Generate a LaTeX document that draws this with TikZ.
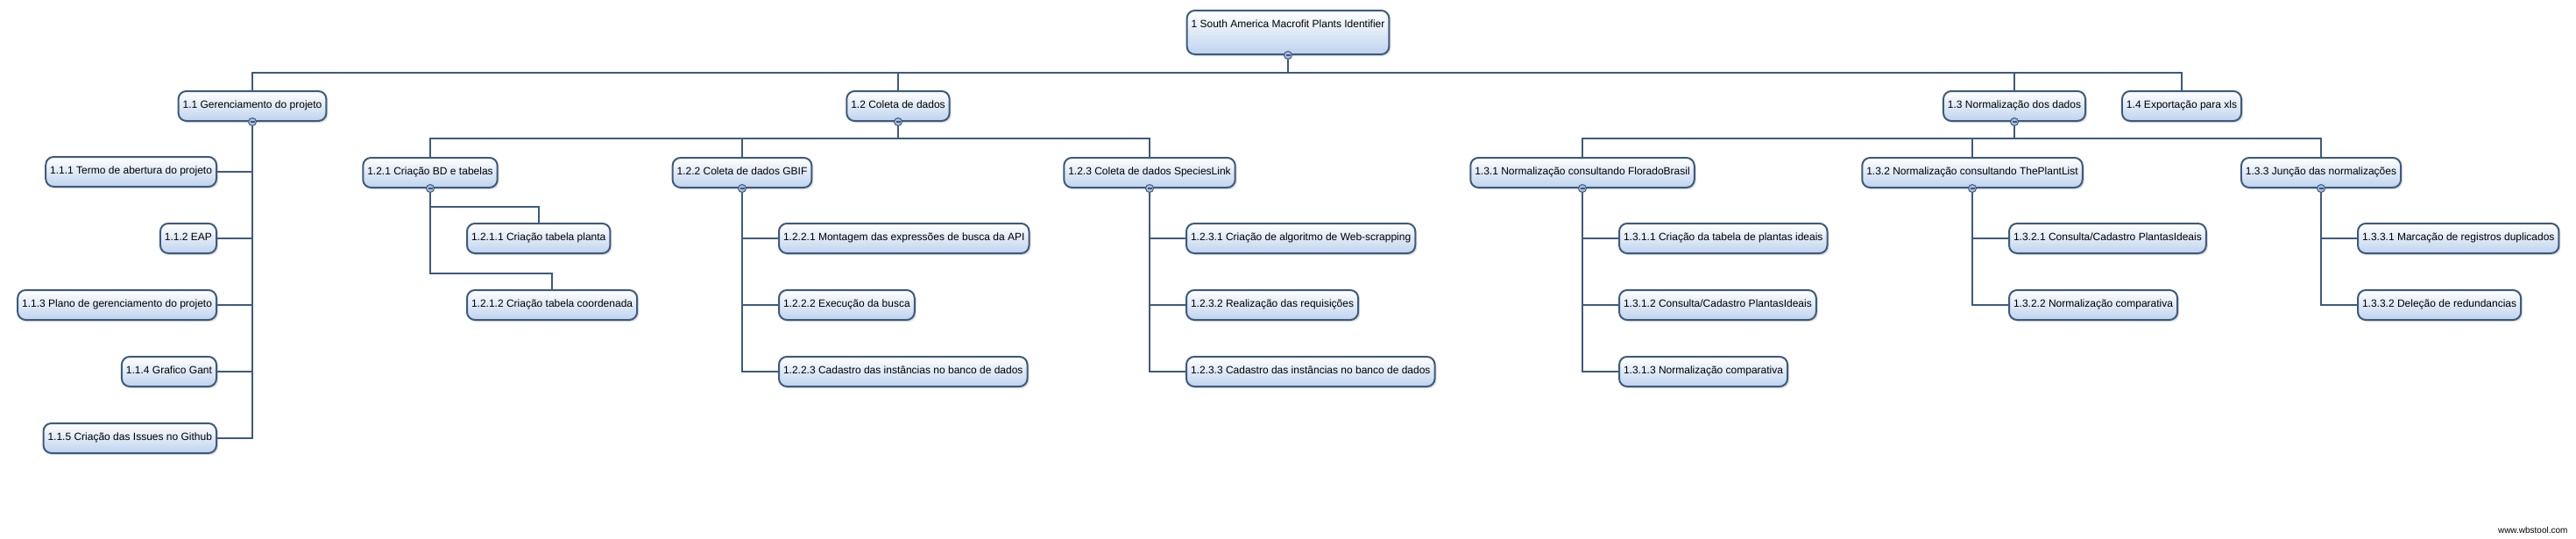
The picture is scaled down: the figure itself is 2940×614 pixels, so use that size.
\documentclass[tikz,border=0pt]{standalone}
\usepackage{fontspec}
\setmainfont{Liberation Sans}
\usetikzlibrary{positioning,shadows}
\definecolor{wbsline}{RGB}{62,90,126}
\definecolor{wbsfill}{RGB}{190,211,238}
\definecolor{wbsknob}{RGB}{168,190,220}

\begin{document}
\begin{tikzpicture}[
  x=1pt, y=-1pt,
  task/.style={draw=wbsline, line width=2pt, rounded corners=9pt, top color=white, bottom color=wbsfill,
    font=\fontsize{12}{14}\selectfont, inner xsep=5pt, inner ysep=11pt, text height=8pt, text depth=4pt,
    drop shadow={shadow xshift=2pt, shadow yshift=-2pt, opacity=0.25}},
  link/.style={draw=wbsline, line width=2pt},
  knob/.style={circle, draw=wbsline, line width=1pt, fill=wbsknob, minimum size=9pt, inner sep=0pt}
]
\useasboundingbox (0,0) rectangle (2940,614);

% Root and first level
\node[task, anchor=north, text depth=20pt] (n1) at (1470,11) {1 South America Macrofit Plants Identifier};
\node[task, anchor=north] (n11) at (288,103) {1.1 Gerenciamento do projeto};
\node[task, anchor=north] (n12) at (1025,103) {1.2 Coleta de dados};
\node[task, anchor=north] (n13) at (2299,103) {1.3 Normalização dos dados};
\node[task, anchor=north] (n14) at (2490,103) {1.4 Exportação para xls};

% 1.1 Gerenciamento (children on the left)
\node[task, anchor=east] (n111) at (248,196) {1.1.1 Termo de abertura do projeto};
\node[task, anchor=east] (n112) at (248,272) {1.1.2 EAP};
\node[task, anchor=east] (n113) at (248,348) {1.1.3 Plano de gerenciamento do projeto};
\node[task, anchor=east] (n114) at (248,424) {1.1.4 Grafico Gant};
\node[task, anchor=east] (n115) at (248,500) {1.1.5 Criação das Issues no Github};

% 1.2 Coleta de dados
\node[task, anchor=north] (n121) at (491,179) {1.2.1 Criação BD e tabelas};
\node[task, anchor=north] (n122) at (847,179) {1.2.2 Coleta de dados GBIF};
\node[task, anchor=north] (n123) at (1312,179) {1.2.3 Coleta de dados SpeciesLink};
\node[task, anchor=west] (n1211) at (532,272) {1.2.1.1 Criação tabela planta};
\node[task, anchor=west] (n1212) at (532,348) {1.2.1.2 Criação tabela coordenada};
\node[task, anchor=west] (n1221) at (888,272) {1.2.2.1 Montagem das expressões de busca da API};
\node[task, anchor=west] (n1222) at (888,348) {1.2.2.2 Execução da busca};
\node[task, anchor=west] (n1223) at (888,424) {1.2.2.3 Cadastro das instâncias no banco de dados};
\node[task, anchor=west] (n1231) at (1353,272) {1.2.3.1 Criação de algoritmo de Web-scrapping};
\node[task, anchor=west] (n1232) at (1353,348) {1.2.3.2 Realização das requisições};
\node[task, anchor=west] (n1233) at (1353,424) {1.2.3.3 Cadastro das instâncias no banco de dados};

% 1.3 Normalizacao
\node[task, anchor=north] (n131) at (1806,179) {1.3.1 Normalização consultando FloradoBrasil};
\node[task, anchor=north] (n132) at (2251,179) {1.3.2 Normalização consultando ThePlantList};
\node[task, anchor=north] (n133) at (2649,179) {1.3.3 Junção das normalizações};
\node[task, anchor=west] (n1311) at (1847,272) {1.3.1.1 Criação da tabela de plantas ideais};
\node[task, anchor=west] (n1312) at (1847,348) {1.3.1.2 Consulta/Cadastro PlantasIdeais};
\node[task, anchor=west] (n1313) at (1847,424) {1.3.1.3 Normalização comparativa};
\node[task, anchor=west] (n1321) at (2292,272) {1.3.2.1 Consulta/Cadastro PlantasIdeais};
\node[task, anchor=west] (n1322) at (2292,348) {1.3.2.2 Normalização comparativa};
\node[task, anchor=west] (n1331) at (2690,272) {1.3.3.1 Marcação de registros duplicados};
\node[task, anchor=west] (n1332) at (2690,348) {1.3.3.2 Deleção de redundancias};

\node[font=\fontsize{10}{12}\selectfont, anchor=east] (credit) at (2934,605) {www.wbstool.com};

% Buses
\coordinate (bus1) at (1470,83);
\coordinate (bus12) at (1025,158);
\coordinate (bus13) at (2299,158);
\draw[link] (n1.south) -- (bus1);
\draw[link] (n11.north) |- (bus1) -| (n14.north);
\draw[link] (n12.north) -- (n12.north |- bus1);
\draw[link] (n13.north) -- (n13.north |- bus1);

\draw[link] (n12.south) -- (bus12);
\draw[link] (n121.north) |- (bus12) -| (n123.north);
\draw[link] (n122.north) -- (n122.north |- bus12);
\draw[link] (n13.south) -- (bus13);
\draw[link] (n131.north) |- (bus13) -| (n133.north);
\draw[link] (n132.north) -- (n132.north |- bus13);

% Side branches
\foreach \c in {n111,n112,n113,n114,n115}
  \draw[link] (n11.south) |- (\c.east);
\draw[link] (n121.south) -- ++(0,21) -| (n1211.north);
\draw[link] (n121.south) -- ++(0,97) -| (n1212.north);
\foreach \c in {n1221,n1222,n1223}
  \draw[link] (n122.south) |- (\c.west);
\foreach \c in {n1231,n1232,n1233}
  \draw[link] (n123.south) |- (\c.west);
\foreach \c in {n1311,n1312,n1313}
  \draw[link] (n131.south) |- (\c.west);
\foreach \c in {n1321,n1322}
  \draw[link] (n132.south) |- (\c.west);
\foreach \c in {n1331,n1332}
  \draw[link] (n133.south) |- (\c.west);

% Collapse knobs
\foreach \p in {n1,n11,n12,n13,n121,n122,n123,n131,n132,n133} {
  \node[knob] at (\p.south) {};
  \draw[wbsline, line width=1.2pt] ([xshift=-2.5pt]\p.south) -- ([xshift=2.5pt]\p.south);
}
\end{tikzpicture}
\end{document}
